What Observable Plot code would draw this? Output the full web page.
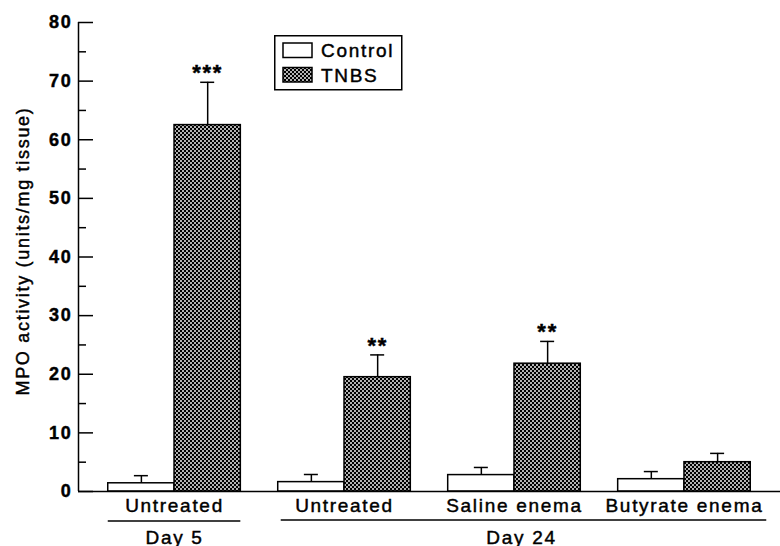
<!DOCTYPE html>
<html><head><meta charset="utf-8">
<script src="https://cdn.jsdelivr.net/npm/d3@7"></script>
<script src="https://cdn.jsdelivr.net/npm/@observablehq/plot@0.6"></script>
<style>
body{margin:0;background:#fff;}
#wrap{position:relative;width:780px;height:546px;}
#legend{position:absolute;left:274px;top:35px;}
#wrap svg text{stroke:#000;stroke-width:0.45px;}
</style></head><body>
<svg width="0" height="0" style="position:absolute">
<defs><pattern id="hatch" width="4" height="4" patternUnits="userSpaceOnUse">
<rect width="4" height="4" fill="#000"/>
<circle cx="1" cy="1" r="0.95" fill="#fff"/>
<circle cx="3" cy="3" r="0.95" fill="#fff"/>
</pattern></defs></svg>
<div id="wrap"></div>
<script>
// ---- data ----
const groups = ["Untreated", "Untreated", "Saline enema", "Butyrate enema"];
const days = ["Day 5", "Day 24", "Day 24", "Day 24"];
const series = ["Control", "TNBS"];
const controlMean = [1.4, 1.6, 2.8, 2.1];
const controlErr = [1.3, 1.3, 1.3, 1.3];
const tnbsMean = [62.5, 19.5, 21.8, 5.0];
const tnbsErr = [7.3, 3.8, 3.8, 1.5];
const tnbsSig = ["***", "**", "**", ""];
const yTicks = [0, 10, 20, 30, 40, 50, 60, 70, 80];
const yMinorTicks = [5, 15, 25, 35, 45, 55, 65, 75];
const yLabel = "MPO activity (units/mg tissue)";

// ---- layout ----
const W = 780, H = 546, ML = 78, MR = 0, MT = 22, MB = 55;
const PI = 0.22, PO = 0.175;
const font = "'Liberation Sans', Arial, Helvetica, sans-serif";
const plotW = W - ML - MR;

const keys = groups.map((g, i) => days[i] + "|" + g);
const band = d3.scaleBand().domain(keys).range([ML, W - MR]).paddingInner(PI).paddingOuter(PO);
const bw = band.bandwidth();
const q = bw / 4;

const control = keys.map((k, i) => ({key: k, mean: controlMean[i], err: controlErr[i]}));
const tnbs = keys.map((k, i) => ({key: k, mean: tnbsMean[i], err: tnbsErr[i], sig: tnbsSig[i]}));

const dayNames = [...new Set(days)];
const dayRows = dayNames.map(d => {
  const ks = keys.filter((k, i) => days[i] === d);
  return {day: d, from: ks[0], to: ks[ks.length - 1], mid: ks[Math.floor(ks.length / 2)]};
});

const chart = Plot.plot({
  width: W, height: H,
  marginLeft: ML, marginRight: MR, marginTop: MT, marginBottom: MB,
  style: {fontFamily: font, letterSpacing: "1.7px", color: "black", background: "white"},
  x: {type: "band", domain: keys, paddingInner: PI, paddingOuter: PO, round: false, axis: null},
  y: {domain: [0, 80], axis: null},
  marks: [
    // bars
    Plot.barY(control, {x: "key", y: "mean", fill: "white", stroke: "black", strokeWidth: 1.5, insetRight: bw / 2}),
    Plot.barY(tnbs, {x: "key", y: "mean", fill: "url(#hatch)", stroke: "black", strokeWidth: 1.5, insetLeft: bw / 2}),
    // error bars
    Plot.ruleX(control, {x: "key", y1: "mean", y2: d => d.mean + d.err, dx: -q, strokeWidth: 1.5}),
    Plot.tickY(control, {x: "key", y: d => d.mean + d.err, insetLeft: q - 7, insetRight: 3 * q - 7, strokeWidth: 1.5}),
    Plot.ruleX(tnbs, {x: "key", y1: "mean", y2: d => d.mean + d.err, dx: q, strokeWidth: 1.5}),
    Plot.tickY(tnbs, {x: "key", y: d => d.mean + d.err, insetLeft: 3 * q - 7, insetRight: q - 7, strokeWidth: 1.5}),
    // significance
    Plot.text(tnbs.filter(d => d.sig), {x: "key", y: d => d.mean + d.err, text: "sig", dx: q, dy: -9, fontSize: 22, fontWeight: "bold"}),
    // axes lines
    Plot.ruleY([0], {strokeWidth: 1.5}),
    Plot.ruleX([{}], {x: null, y1: 0, y2: 80, dx: -plotW / 2, strokeWidth: 1.5}),
    Plot.tickY(yTicks, {y: d => d, insetRight: plotW - 15, strokeWidth: 1.5}),
    Plot.tickY(yMinorTicks, {y: d => d, insetRight: plotW - 8, strokeWidth: 1.5}),
    Plot.axisY({ticks: yTicks, tickSize: 0, tickPadding: 6, fontSize: 18, fontWeight: "bold", label: null}),
    Plot.axisX({tickSize: 0, tickPadding: 7, fontSize: 19, label: null, tickFormat: k => k.split("|")[1]}),
    Plot.text([yLabel], {text: d => d, frameAnchor: "left", textAnchor: "middle", rotate: -90, dx: -55, dy: -6, fontSize: 18}),
    // day grouping
    Plot.ruleY(dayRows.filter(d => d.day === "Day 5"), {x1: "from", x2: "to", y: 0, dy: 29.5, strokeWidth: 1.5}),
    Plot.ruleY(dayRows.filter(d => d.day !== "Day 5"), {x1: "from", x2: "to", y: 0, dy: 28.5, insetLeft: 3, insetRight: -16, strokeWidth: 1.5}),
    Plot.text(dayRows.filter(d => d.day === "Day 5"), {x: "from", y: 0, text: "day", lineAnchor: "top", dy: 39, fontSize: 19}),
    Plot.text(dayRows.filter(d => d.day !== "Day 5"), {x: "mid", y: 0, text: "day", lineAnchor: "top", dy: 39, dx: 7, fontSize: 19})
  ]
});
const wrap = document.getElementById("wrap");
wrap.appendChild(chart);

// legend
const fills = {Control: "white", TNBS: "url(#hatch)"};
const lg = d3.create("svg").attr("id", "legend").attr("width", 130).attr("height", 58)
  .style("font-family", font).style("letter-spacing", "1.7px");
lg.append("rect").attr("x", 0.75).attr("y", 0.75).attr("width", 127).attr("height", 54)
  .attr("fill", "white").attr("stroke", "black").attr("stroke-width", 1.5);
series.forEach((s, i) => {
  const y0 = 8 + i * 24.5;
  lg.append("rect").attr("x", 9).attr("y", y0).attr("width", 29).attr("height", 14.5)
    .attr("fill", fills[s]).attr("stroke", "black").attr("stroke-width", 1.5);
  lg.append("text").attr("x", 47).attr("y", y0 + 14).attr("font-size", 19).attr("fill", "black").text(s);
});
wrap.appendChild(lg.node());
</script>
</body></html>
